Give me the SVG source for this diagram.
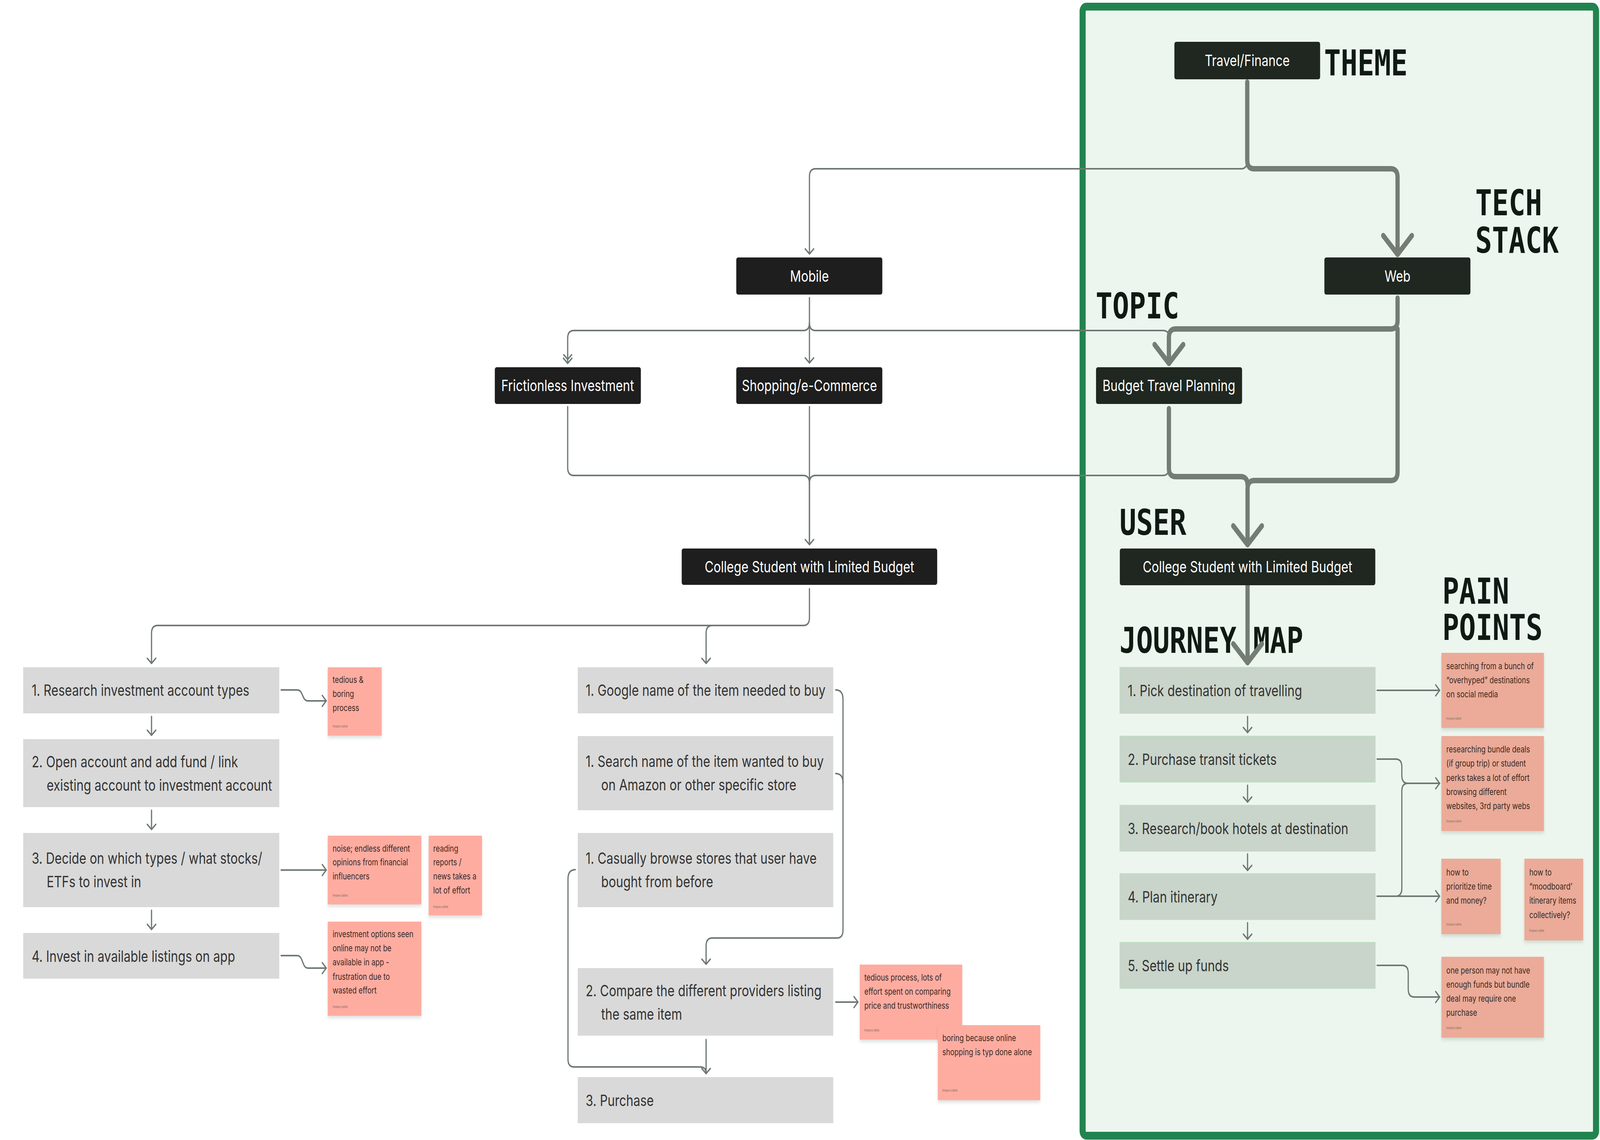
<svg xmlns="http://www.w3.org/2000/svg" width="5248" height="2918" viewBox="0 0 5248 2918" preserveAspectRatio="none" style="width:100%;height:100%;display:block">
<style>
.node rect{rx:6px}
.dl{fill:#1e1e1e}
.dr{fill:#1f2720}
.nt{font-family:Inter,"Noto Sans",sans-serif;font-size:40px;fill:#ffffff;text-anchor:middle}
.sl{fill:#d9d9d9}
.sr{fill:#c9d4ca;stroke:#bfe1c5;stroke-width:2}
.st{font-family:Inter,"Noto Sans",sans-serif;font-size:40px;fill:#333333}
.nl{fill:#ffaca0}
.nr{fill:#ebab98}
.ntx{font-family:Inter,"Noto Sans",sans-serif;font-size:23px;fill:#3a2a26}
.imp{font-family:Inter,"Noto Sans",sans-serif;font-size:9px;fill:#8a706a}
.ttl{font-family:"DejaVu Sans Mono",monospace;font-weight:bold;font-size:91px;fill:#0f1a13}
.thin{fill:none;stroke:#6e7873;stroke-width:4;stroke-linecap:round;stroke-linejoin:round}
.thick{fill:none;stroke:#757c74;stroke-width:14;stroke-linecap:round;stroke-linejoin:round}
</style>
<defs>
<marker id="ah" viewBox="-20 -20 30 40" markerWidth="30" markerHeight="40" refX="0" refY="0" orient="auto" markerUnits="userSpaceOnUse">
<path d="M -13 -14 L 0 0 L -13 14" fill="none" stroke="#6e7873" stroke-width="4" stroke-linecap="round" stroke-linejoin="round"/>
</marker>
<marker id="aht" viewBox="-70 -70 85 140" markerWidth="85" markerHeight="140" refX="0" refY="0" orient="auto" markerUnits="userSpaceOnUse">
<path d="M -48 -47 L 0 0 L -48 47" fill="none" stroke="#757c74" stroke-width="14" stroke-linecap="round" stroke-linejoin="round"/>
</marker>
<filter id="sh" x="-10%" y="-10%" width="120%" height="130%">
<feDropShadow dx="0" dy="6" stdDeviation="4" flood-color="#000000" flood-opacity="0.12"/>
</filter>
</defs>
<rect width="5248" height="2918" fill="#ffffff"/>
<rect id="frame" x="3551" y="17" width="1684" height="2890" rx="12" fill="#edf6ee" stroke="#21844f" stroke-width="20"/>

<g id="titles">
<text class="ttl" x="4343" y="193">THEME</text>
<text class="ttl"><tspan x="4839" y="551">TECH</tspan><tspan x="4839" y="647">STACK</tspan></text>
<text class="ttl" x="3594" y="815">TOPIC</text>
<text class="ttl" x="3672" y="1369">USER</text>
<text class="ttl" x="3672" y="1671">JOURNEY MAP</text>
<text class="ttl"><tspan x="4731" y="1545">PAIN</tspan><tspan x="4731" y="1638">POINTS</tspan></text>
</g>

<g id="connectors">
<path class="thin" d="M 4091 410 Q 4091 432 4071 432 L 2675 432 Q 2655 432 2655 452 L 2655 650" marker-end="url(#ah)"/>
<path class="thin" d="M 2655 762 L 2655 929" marker-end="url(#ah)"/>
<path class="thin" d="M 2655 826 Q 2655 846 2635 846 L 1882 846 Q 1862 846 1862 866 L 1862 930" marker-end="url(#ah)"/>
<path class="thin" d="M 1849 908 L 1862 920 L 1875 908"/>
<path class="thin" d="M 2655 826 Q 2655 846 2675 846 L 3815 846 Q 3835 846 3835 866 L 3835 930"/>
<path class="thin" d="M 1862 1041 L 1862 1197 Q 1862 1217 1882 1217 L 2635 1217 Q 2655 1217 2655 1237 L 2655 1394" marker-end="url(#ah)"/>
<path class="thin" d="M 2655 1041 L 2655 1394"/>
<path class="thin" d="M 3834 1197 Q 3834 1217 3814 1217 L 2675 1217 Q 2655 1217 2655 1237"/>
<path class="thin" d="M 2655 1507 L 2655 1581 Q 2655 1601 2635 1601 L 517 1601 Q 497 1601 497 1621 L 497 1698" marker-end="url(#ah)"/>
<path class="thin" d="M 2336 1601 Q 2316 1601 2316 1621 L 2316 1698" marker-end="url(#ah)"/>
<path class="thin" d="M 497 1834 L 497 1882" marker-end="url(#ah)"/>
<path class="thin" d="M 497 2074 L 497 2123" marker-end="url(#ah)"/>
<path class="thin" d="M 497 2330 L 497 2379" marker-end="url(#ah)"/>
<path class="thin" d="M 922 1766 L 975 1766 C 995 1766 990 1794 1010 1794 L 1070 1794" marker-end="url(#ah)"/>
<path class="thin" d="M 922 2227 L 1070 2227" marker-end="url(#ah)"/>
<path class="thin" d="M 922 2446 L 975 2446 C 995 2446 990 2478 1010 2478 L 1070 2478" marker-end="url(#ah)"/>
<path class="thin" d="M 2741 1766 Q 2765 1766 2765 1790 L 2765 2381 Q 2765 2401 2745 2401 L 2336 2401 Q 2316 2401 2316 2421 L 2316 2468" marker-end="url(#ah)"/>
<path class="thin" d="M 2741 1980 Q 2765 1980 2765 2004"/>
<path class="thin" d="M 1887 2226 Q 1863 2226 1863 2250 L 1863 2711 Q 1863 2731 1883 2731 L 2296 2731 Q 2316 2731 2316 2747"/>
<path class="thin" d="M 2316 2661 L 2316 2748" marker-end="url(#ah)"/>
<path class="thin" d="M 2741 2565 L 2814 2565" marker-end="url(#ah)"/>
<path class="thin" d="M 4517 1767 L 4722 1767" marker-end="url(#ah)"/>
<path class="thin" d="M 4517 1943 L 4578 1943 Q 4598 1943 4598 1963 L 4598 1985 Q 4598 2005 4618 2005 L 4722 2005" marker-end="url(#ah)"/>
<path class="thin" d="M 4517 2294 L 4578 2294 Q 4598 2294 4598 2274 L 4598 2025 Q 4598 2005 4618 2005"/>
<path class="thin" d="M 4517 2294 L 4722 2294" marker-end="url(#ah)"/>
<path class="thin" d="M 4517 2471 L 4599 2471 Q 4619 2471 4619 2491 L 4619 2532 Q 4619 2552 4639 2552 L 4722 2552" marker-end="url(#ah)"/>
<path class="thin" d="M 4092 1834 L 4092 1875" marker-end="url(#ah)"/>
<path class="thin" d="M 4092 2010 L 4092 2053" marker-end="url(#ah)"/>
<path class="thin" d="M 4092 2186 L 4092 2228" marker-end="url(#ah)"/>
<path class="thin" d="M 4092 2362 L 4092 2404" marker-end="url(#ah)"/>
<path class="thick" d="M 4091 210 L 4091 410 Q 4091 432 4113 432 L 4562 432 Q 4584 432 4584 454 L 4584 651" marker-end="url(#aht)"/>
<path class="thick" d="M 4584 763 L 4584 820 Q 4584 842 4562 842 L 3856 842 Q 3834 842 3834 864 L 3834 930" marker-end="url(#aht)"/>
<path class="thick" d="M 4584 842 L 4584 1208 Q 4584 1230 4562 1230 L 4114 1230 Q 4092 1230 4092 1252 L 4092 1394" marker-end="url(#aht)"/>
<path class="thick" d="M 3834 1046 L 3834 1198 Q 3834 1220 3856 1220 L 4070 1220 Q 4092 1220 4092 1242"/>
<path class="thick" d="M 4092 1498 L 4092 1696" marker-end="url(#aht)"/>
</g>

<g id="node-travel" class="node"><rect class="dr" x="3852" y="107" width="478" height="96"/><text class="nt" x="4091" y="169">Travel/Finance</text></g>
<g id="node-mobile" class="node"><rect class="dl" x="2415" y="659" width="479" height="95"/><text class="nt" x="2655" y="721">Mobile</text></g>
<g id="node-web" class="node"><rect class="dr" x="4344" y="659" width="479" height="95"/><text class="nt" x="4584" y="721">Web</text></g>
<g id="node-frictionless" class="node"><rect class="dl" x="1623" y="940" width="479" height="94"/><text class="nt" x="1862" y="1001">Frictionless Investment</text></g>
<g id="node-shopping" class="node"><rect class="dl" x="2415" y="940" width="479" height="94"/><text class="nt" x="2655" y="1001">Shopping/e-Commerce</text></g>
<g id="node-budget" class="node"><rect class="dr" x="3595" y="940" width="479" height="94"/><text class="nt" x="3834" y="1001">Budget Travel Planning</text></g>
<g id="node-college-left" class="node"><rect class="dl" x="2236" y="1404" width="838" height="93"/><text class="nt" x="2655" y="1465">College Student with Limited Budget</text></g>
<g id="node-college-right" class="node"><rect class="dr" x="3673" y="1404" width="838" height="94"/><text class="nt" x="4092" y="1465">College Student with Limited Budget</text></g>

<g id="step-l1"><rect class="sl" x="76" y="1708" width="840" height="118"/><text class="st" x="104" y="1781">1. Research investment account types</text></g>
<g id="step-l2"><rect class="sl" x="76" y="1892" width="840" height="174"/><text class="st" x="104" y="1964">2. Open account and add fund / link</text><text class="st" x="153" y="2024">existing account to investment account</text></g>
<g id="step-l3"><rect class="sl" x="76" y="2132" width="840" height="190"/><text class="st" x="104" y="2211">3. Decide on which types / what stocks/</text><text class="st" x="153" y="2271">ETFs to invest in</text></g>
<g id="step-l4"><rect class="sl" x="76" y="2388" width="840" height="117"/><text class="st" x="104" y="2462">4. Invest in available listings on app</text></g>

<g id="step-m1"><rect class="sl" x="1895" y="1708" width="838" height="118"/><text class="st" x="1921" y="1781">1. Google name of the item needed to buy</text></g>
<g id="step-m2"><rect class="sl" x="1895" y="1884" width="838" height="190"/><text class="st" x="1921" y="1963">1. Search name of the item wanted to buy</text><text class="st" x="1972" y="2023">on Amazon or other specific store</text></g>
<g id="step-m3"><rect class="sl" x="1895" y="2132" width="838" height="190"/><text class="st" x="1921" y="2211">1. Casually browse stores that user have</text><text class="st" x="1972" y="2271">bought from before</text></g>
<g id="step-m4"><rect class="sl" x="1895" y="2478" width="838" height="173"/><text class="st" x="1921" y="2550">2. Compare the different providers listing</text><text class="st" x="1972" y="2610">the same item</text></g>
<g id="step-m5"><rect class="sl" x="1895" y="2757" width="838" height="118"/><text class="st" x="1921" y="2831">3. Purchase</text></g>

<g id="step-r1"><rect class="sr" x="3673" y="1708" width="838" height="118"/><text class="st" x="3699" y="1782">1. Pick destination of travelling</text></g>
<g id="step-r2"><rect class="sr" x="3673" y="1884" width="838" height="118"/><text class="st" x="3699" y="1958">2. Purchase transit tickets</text></g>
<g id="step-r3"><rect class="sr" x="3673" y="2061" width="838" height="118"/><text class="st" x="3699" y="2135">3. Research/book hotels at destination</text></g>
<g id="step-r4"><rect class="sr" x="3673" y="2236" width="838" height="118"/><text class="st" x="3699" y="2310">4. Plan itinerary</text></g>
<g id="step-r5"><rect class="sr" x="3673" y="2412" width="838" height="118"/><text class="st" x="3699" y="2486">5. Settle up funds</text></g>

<g id="note-l1"><rect class="nl" x="1075" y="1708" width="177" height="175" filter="url(#sh)"/><text class="ntx" x="1091" y="1748">tedious &amp;</text><text class="ntx" x="1091" y="1784">boring</text><text class="ntx" x="1091" y="1820">process</text><text class="imp" x="1091" y="1862">Impeccable</text></g>
<g id="note-l2"><rect class="nl" x="1075" y="2139" width="307" height="176" filter="url(#sh)"/><text class="ntx" x="1091" y="2180">noise; endless different</text><text class="ntx" x="1091" y="2215">opinions from financial</text><text class="ntx" x="1091" y="2251">influencers</text><text class="imp" x="1091" y="2295">Impeccable</text></g>
<g id="note-l3"><rect class="nl" x="1406" y="2139" width="175" height="204" filter="url(#sh)"/><text class="ntx" x="1421" y="2180">reading</text><text class="ntx" x="1421" y="2215">reports /</text><text class="ntx" x="1421" y="2251">news takes a</text><text class="ntx" x="1421" y="2287">lot of effort</text><text class="imp" x="1421" y="2324">Impeccable</text></g>
<g id="note-l4"><rect class="nl" x="1075" y="2359" width="307" height="241" filter="url(#sh)"/><text class="ntx" x="1091" y="2399">investment options seen</text><text class="ntx" x="1091" y="2435">online may not be</text><text class="ntx" x="1091" y="2471">available in app -</text><text class="ntx" x="1091" y="2508">frustration due to</text><text class="ntx" x="1091" y="2543">wasted effort</text><text class="imp" x="1091" y="2580">Impeccable</text></g>
<g id="note-m1"><rect class="nl" x="2820" y="2469" width="336" height="192" filter="url(#sh)"/><text class="ntx" x="2835" y="2510">tedious process, lots of</text><text class="ntx" x="2835" y="2546">effort spent on comparing</text><text class="ntx" x="2835" y="2582">price and trustworthiness</text><text class="imp" x="2835" y="2640">Impeccable</text></g>
<g id="note-m2"><rect class="nl" x="3076" y="2624" width="336" height="192" filter="url(#sh)"/><text class="ntx" x="3091" y="2665">boring because online</text><text class="ntx" x="3091" y="2701">shopping is typ done alone</text><text class="imp" x="3091" y="2794">Impeccable</text></g>

<g id="note-r1"><rect class="nr" x="4728" y="1671" width="336" height="192" filter="url(#sh)"/><text class="ntx" x="4744" y="1713">searching from a bunch of</text><text class="ntx" x="4744" y="1749">“overhyped” destinations</text><text class="ntx" x="4744" y="1785">on social media</text><text class="imp" x="4744" y="1842">Impeccable</text></g>
<g id="note-r2"><rect class="nr" x="4728" y="1884" width="336" height="243" filter="url(#sh)"/><text class="ntx" x="4744" y="1926">researching bundle deals</text><text class="ntx" x="4744" y="1962">(if group trip) or student</text><text class="ntx" x="4744" y="1999">perks takes a lot of effort</text><text class="ntx" x="4744" y="2035">browsing different</text><text class="ntx" x="4744" y="2071">websites, 3rd party webs</text><text class="imp" x="4744" y="2105">Impeccable</text></g>
<g id="note-r3"><rect class="nr" x="4728" y="2198" width="194" height="193" filter="url(#sh)"/><text class="ntx" x="4744" y="2241">how to</text><text class="ntx" x="4744" y="2277">prioritize time</text><text class="ntx" x="4744" y="2313">and money?</text><text class="imp" x="4744" y="2369">Impeccable</text></g>
<g id="note-r4"><rect class="nr" x="5000" y="2198" width="193" height="209" filter="url(#sh)"/><text class="ntx" x="5016" y="2241">how to</text><text class="ntx" x="5016" y="2277">“moodboard’</text><text class="ntx" x="5016" y="2313">itinerary items</text><text class="ntx" x="5016" y="2350">collectively?</text><text class="imp" x="5016" y="2385">Impeccable</text></g>
<g id="note-r5"><rect class="nr" x="4728" y="2449" width="336" height="207" filter="url(#sh)"/><text class="ntx" x="4744" y="2492">one person may not have</text><text class="ntx" x="4744" y="2528">enough funds but bundle</text><text class="ntx" x="4744" y="2564">deal may require one</text><text class="ntx" x="4744" y="2600">purchase</text><text class="imp" x="4744" y="2634">Impeccable</text></g>
</svg>
